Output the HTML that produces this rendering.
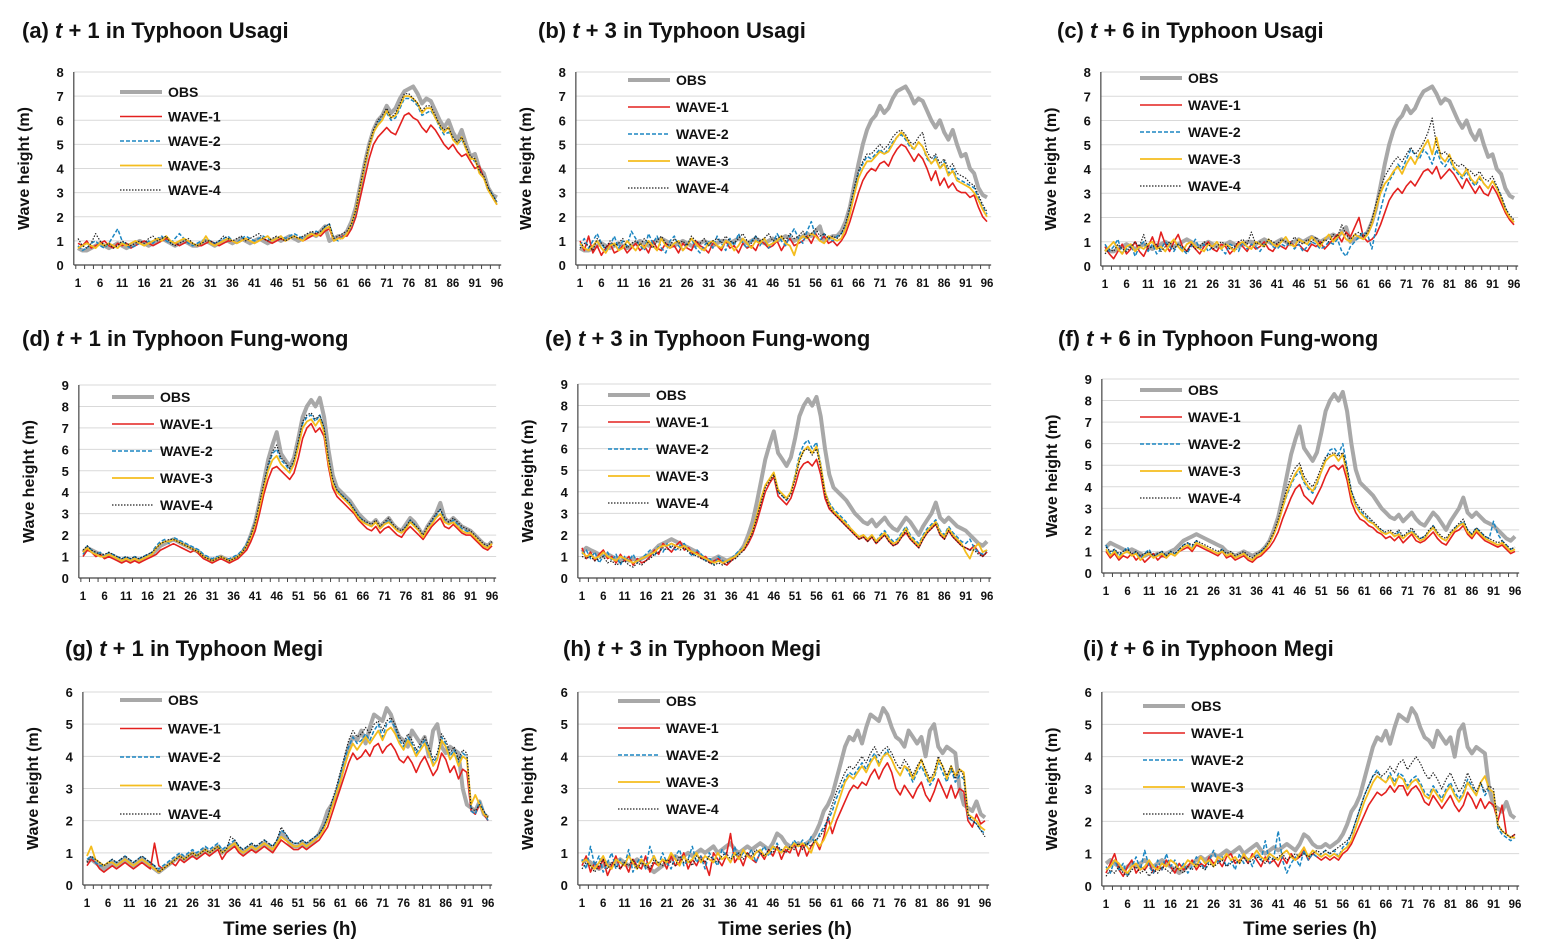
<!DOCTYPE html>
<html><head><meta charset="utf-8"><style>
html,body{margin:0;padding:0;background:#fff;}
svg{display:block;font-family:"Liberation Sans",Arial,sans-serif;}
</style></head><body>
<svg id="chart" width="1541" height="952" viewBox="0 0 1541 952" xmlns="http://www.w3.org/2000/svg"></svg>
<script>
// ---- data ----
const categories = Array.from({length:96},(_,i)=>i+1);
const xTickLabels = ["1","6","11","16","21","26","31","36","41","46","51","56","61","66","71","76","81","86","91","96"];
const seriesNames = ["OBS","WAVE-1","WAVE-2","WAVE-3","WAVE-4"];

const obsUsagi = [0.7,0.6,0.6,0.7,0.8,0.9,0.8,0.7,0.8,0.9,0.8,0.7,0.8,0.9,1.0,0.9,0.8,0.9,1.0,1.1,1.0,0.9,0.8,0.9,1.0,0.9,0.8,0.8,0.9,1.0,0.9,0.8,0.9,1.0,1.0,0.9,1.0,1.1,1.0,0.9,1.0,1.1,1.0,0.9,1.0,1.1,1.0,1.1,1.2,1.1,1.0,1.1,1.2,1.3,1.2,1.4,1.6,1.0,1.1,1.2,1.2,1.4,1.8,2.4,3.3,4.2,5.0,5.6,6.0,6.2,6.6,6.3,6.5,6.9,7.2,7.3,7.4,7.1,6.7,6.9,6.8,6.4,6.0,5.7,6.0,5.5,5.2,5.6,5.0,4.5,4.6,4.0,3.8,3.2,2.9,2.8];
const obsFung = [1.2,1.4,1.3,1.2,1.1,1.0,1.1,1.0,0.9,0.8,0.9,0.8,0.9,0.8,0.9,1.0,1.1,1.3,1.5,1.6,1.7,1.8,1.7,1.6,1.5,1.4,1.3,1.2,1.0,0.9,0.8,0.9,1.0,0.9,0.8,0.9,1.0,1.2,1.5,2.0,2.6,3.5,4.5,5.5,6.2,6.8,5.8,5.5,5.2,5.6,6.5,7.5,8.0,8.3,8.0,8.4,7.5,6.0,4.8,4.2,4.0,3.8,3.6,3.3,3.0,2.8,2.6,2.5,2.7,2.4,2.6,2.8,2.5,2.3,2.2,2.5,2.8,2.6,2.3,2.0,2.4,2.7,3.0,3.5,2.8,2.6,2.8,2.6,2.4,2.3,2.2,2.0,1.8,1.6,1.5,1.7];
const obsMegi = [0.7,0.8,0.7,0.6,0.5,0.6,0.7,0.6,0.7,0.8,0.7,0.6,0.7,0.8,0.7,0.6,0.5,0.4,0.5,0.6,0.7,0.8,0.9,0.8,0.9,1.0,0.9,1.0,1.1,1.0,1.1,1.2,1.0,1.1,1.2,1.3,1.1,1.0,1.1,1.2,1.1,1.2,1.3,1.2,1.1,1.3,1.6,1.5,1.3,1.2,1.2,1.3,1.2,1.3,1.4,1.6,1.9,2.3,2.5,2.8,3.3,3.8,4.3,4.6,4.5,4.8,4.4,4.9,5.3,5.2,5.1,5.5,5.3,4.9,4.6,4.5,4.3,4.8,4.6,4.4,4.6,4.0,4.8,5.0,4.3,4.1,4.3,4.2,4.1,3.0,2.5,2.4,2.3,2.6,2.2,2.1];

const aW1=[0.9,0.8,1.0,0.7,0.8,0.9,1.0,0.8,0.7,0.9,0.8,0.9,0.7,0.8,0.9,1.0,0.9,0.8,0.9,1.0,1.1,1.0,0.9,0.8,0.9,1.0,0.9,0.8,0.8,0.9,1.0,0.9,0.8,0.9,1.0,1.0,0.9,1.0,1.1,1.0,0.9,1.0,1.1,1.0,0.9,1.0,1.1,1.0,1.1,1.2,1.1,1.0,1.1,1.2,1.3,1.2,1.4,1.5,1.0,1.1,1.2,1.2,1.5,2.0,2.8,3.6,4.4,5.0,5.3,5.5,5.7,5.5,5.4,5.8,6.2,6.3,6.1,6.0,5.7,5.5,5.8,5.6,5.3,5.0,4.8,5.0,4.7,4.5,4.6,4.3,4.0,4.1,3.6,3.2,2.8,2.5];
const aW2=[0.8,0.6,0.7,0.9,1.0,0.8,0.7,0.9,1.2,1.5,1.0,0.8,0.7,0.8,0.9,0.8,1.0,0.9,1.1,1.2,1.0,0.9,1.1,1.3,1.1,0.9,0.8,0.9,1.0,1.1,1.0,0.9,1.0,1.1,1.2,1.0,0.9,1.1,1.2,1.1,1.0,1.1,1.2,1.1,1.0,1.1,1.2,1.1,1.2,1.3,1.2,1.1,1.2,1.3,1.4,1.3,1.6,1.7,1.1,1.0,1.2,1.3,1.6,2.2,3.1,4.0,4.9,5.5,5.9,6.1,6.3,6.0,6.1,6.5,6.9,6.9,6.8,6.6,6.2,6.3,6.4,6.1,5.7,5.4,5.5,5.3,5.0,5.2,4.8,4.4,4.3,3.9,3.6,3.2,2.9,2.6];
const aW3=[0.7,0.8,0.9,0.8,0.7,0.9,0.8,0.9,0.8,0.7,0.9,0.8,0.9,1.0,0.9,0.8,0.9,1.0,1.1,1.0,1.2,1.0,0.9,1.0,1.1,1.0,0.9,0.8,0.9,1.2,0.9,0.8,0.9,1.0,1.1,1.0,0.9,1.0,1.1,1.0,0.9,1.0,1.1,1.2,1.0,1.1,1.2,1.0,1.1,1.2,1.1,1.0,1.2,1.3,1.2,1.3,1.5,1.6,1.0,1.1,1.1,1.3,1.7,2.3,3.2,4.1,4.9,5.5,5.8,6.0,6.4,6.1,6.2,6.6,7.0,7.0,6.9,6.7,6.3,6.5,6.5,6.1,5.8,5.5,5.7,5.2,5.0,5.3,4.8,4.4,4.4,3.8,3.6,3.1,2.8,2.5];
const aW4=[1.1,0.8,0.7,0.9,1.3,1.0,0.8,0.9,0.7,0.8,1.0,0.9,0.8,0.9,1.0,0.9,1.1,1.2,1.0,1.1,1.2,0.9,0.8,0.9,1.0,1.1,0.9,0.8,0.9,1.0,1.0,0.9,1.0,1.2,1.1,1.0,1.1,1.2,1.0,1.1,1.2,1.3,1.1,1.0,1.1,1.2,1.1,1.0,1.1,1.2,1.1,1.2,1.3,1.4,1.3,1.4,1.6,1.7,1.1,1.2,1.3,1.4,1.7,2.3,3.3,4.2,5.0,5.6,6.0,6.2,6.5,6.1,6.3,6.7,7.1,7.1,6.9,6.7,6.4,6.6,6.6,6.2,5.8,5.6,5.7,5.3,5.1,5.3,4.9,4.5,4.4,3.9,3.7,3.2,2.9,2.6];

const bW1=[1.0,0.6,1.2,0.5,0.8,0.4,0.7,0.9,0.5,0.6,0.8,0.5,0.7,0.9,0.6,0.8,0.5,1.0,0.7,0.6,0.9,0.7,0.8,0.5,0.9,0.7,0.6,1.0,0.8,0.7,0.5,0.9,0.8,0.6,1.0,0.7,0.8,0.5,0.9,0.7,0.8,0.6,1.0,0.9,0.7,0.8,1.0,0.6,0.9,1.1,0.8,0.9,1.0,1.2,0.9,1.3,1.0,1.2,0.9,1.0,0.8,1.0,1.3,1.8,2.4,3.0,3.5,3.8,4.0,3.9,4.2,4.3,4.1,4.5,4.8,5.0,4.9,4.6,4.3,4.6,4.4,4.0,3.5,3.9,3.3,3.6,3.2,3.4,3.1,3.0,3.0,2.8,2.9,2.4,2.0,1.8];
const bW2=[0.8,1.1,0.7,1.0,1.3,0.9,0.6,0.8,1.2,0.7,1.0,0.8,1.4,1.1,0.8,0.6,1.3,0.9,1.2,0.7,0.5,1.0,1.2,0.8,0.6,0.9,1.1,0.7,0.5,0.8,1.0,0.7,1.2,0.9,0.6,1.1,0.8,1.3,0.9,0.7,1.0,1.2,0.8,1.1,0.7,0.9,1.3,1.0,0.8,1.2,1.5,1.1,0.9,1.4,1.8,1.2,1.0,1.3,1.1,1.0,1.2,1.3,1.6,2.3,3.1,3.8,4.2,4.5,4.4,4.6,4.8,4.6,4.8,5.1,5.3,5.4,5.2,4.9,4.8,5.1,4.9,4.4,4.2,4.5,4.0,4.3,3.8,4.0,3.6,3.5,3.4,3.3,3.2,2.8,2.4,2.1];
const bW3=[0.9,0.7,0.6,0.8,1.0,0.7,0.5,0.8,0.9,0.6,0.7,1.0,0.8,0.6,0.9,0.7,1.0,0.8,0.6,1.1,0.8,0.7,0.9,1.0,0.6,0.8,1.1,0.9,0.7,0.6,0.9,1.0,0.8,0.7,1.0,0.9,0.6,0.8,1.1,0.9,0.7,1.0,0.9,1.1,0.8,0.9,1.0,1.2,0.9,0.8,0.4,1.0,1.2,1.1,1.3,1.2,1.0,0.9,1.2,1.1,1.0,1.1,1.5,2.1,2.9,3.6,4.0,4.3,4.3,4.5,4.7,4.6,4.7,5.0,5.3,5.5,5.3,5.0,4.8,5.1,4.9,4.5,4.2,4.4,4.0,4.2,3.7,3.9,3.5,3.4,3.3,3.2,3.0,2.7,2.3,2.0];
const bW4=[0.7,0.9,0.8,0.6,1.1,0.9,0.7,1.0,0.8,0.9,1.1,0.7,0.9,1.0,0.8,1.1,0.9,0.7,1.0,1.2,0.9,0.8,1.1,0.9,1.0,0.8,1.2,1.0,0.9,1.1,0.8,1.0,1.1,0.9,1.2,1.0,0.9,1.1,1.3,1.0,0.9,1.2,1.0,1.1,1.3,1.0,1.1,1.2,1.0,1.3,1.1,1.2,1.4,1.1,1.3,1.5,1.2,1.3,1.1,1.2,1.1,1.3,1.7,2.4,3.2,3.9,4.3,4.6,4.6,4.8,5.0,4.8,5.0,5.3,5.5,5.6,5.4,5.1,5.0,5.3,5.5,4.7,4.4,4.6,4.2,4.4,4.0,4.2,3.8,3.7,3.6,3.4,3.3,2.9,2.5,2.2];

const cW1=[0.8,0.5,0.3,0.6,0.9,0.5,0.7,1.0,0.6,0.4,0.8,1.2,0.7,1.4,0.9,0.6,1.0,1.3,0.8,0.6,0.9,0.7,0.5,0.8,1.0,0.7,0.6,0.9,0.8,0.5,0.7,1.0,0.8,0.6,0.9,0.7,0.8,1.0,0.7,0.6,0.9,0.8,0.7,1.0,0.8,0.9,0.7,0.6,0.9,0.8,1.0,0.7,0.9,1.1,1.3,1.0,1.4,1.2,1.6,2.0,1.2,1.0,1.1,1.3,1.7,2.2,2.7,3.0,3.2,3.0,3.3,3.5,3.3,3.6,3.9,4.0,3.8,4.1,3.6,3.8,4.0,3.8,3.5,3.2,3.6,3.3,3.0,3.3,3.0,2.9,3.3,3.0,2.6,2.2,1.9,1.7];
const cW2=[0.9,0.6,0.8,1.1,0.5,0.7,0.9,0.4,0.8,1.0,0.6,0.9,0.5,0.7,1.0,0.8,0.6,0.9,0.7,0.5,0.8,1.1,0.7,0.9,0.6,0.8,1.0,0.7,0.5,0.9,0.8,0.6,1.0,0.7,0.9,0.8,0.6,0.9,1.1,0.8,0.7,0.9,0.8,1.0,0.7,0.9,0.6,0.8,1.0,0.9,0.7,0.8,1.0,0.9,1.1,0.6,0.4,0.8,1.0,1.2,1.4,1.3,0.7,1.6,2.3,3.0,3.5,3.8,4.2,4.0,4.4,4.8,4.6,4.4,4.8,4.6,4.2,4.8,4.3,4.1,4.4,4.0,3.8,3.6,3.9,3.5,3.3,3.6,3.4,3.2,3.5,3.3,2.9,2.4,2.0,1.8];
const cW3=[0.6,0.8,1.0,0.7,0.5,0.8,0.9,0.6,0.8,0.7,0.9,1.0,0.7,0.8,0.6,0.9,1.1,0.8,0.6,0.9,1.0,0.8,0.7,0.6,0.9,0.8,1.0,0.7,0.9,0.8,0.6,0.9,1.0,0.8,0.7,1.0,0.9,0.8,1.1,0.9,0.8,1.0,1.2,0.9,0.8,1.1,1.0,0.9,1.2,1.0,0.8,1.1,1.3,1.0,1.2,1.4,1.1,1.0,1.3,1.2,1.1,1.3,1.7,2.4,3.0,3.4,3.6,3.9,4.1,3.8,4.2,4.5,4.2,4.6,4.9,5.2,4.6,5.3,4.5,4.3,4.6,4.1,3.9,3.7,4.0,3.6,3.4,3.7,3.4,3.2,3.5,3.2,2.8,2.3,2.0,1.8];
const cW4=[0.5,0.7,0.6,0.9,0.7,0.6,0.8,1.0,0.8,1.3,0.7,0.8,0.9,0.6,0.8,1.0,0.7,0.9,0.8,0.6,0.9,0.7,0.8,1.0,0.9,0.7,0.8,1.0,0.9,0.7,0.8,1.0,1.1,0.9,1.4,0.9,1.0,0.8,1.1,1.0,0.9,1.1,1.0,0.9,1.2,1.0,0.9,1.1,1.0,1.2,0.9,1.1,1.0,1.3,1.2,1.7,1.3,1.1,1.3,1.4,1.2,1.4,1.9,2.6,3.2,3.7,4.0,4.3,4.5,4.3,4.6,4.9,4.6,4.8,5.1,5.5,6.1,5.0,4.6,4.7,4.5,4.3,4.1,4.2,4.0,3.9,3.7,3.9,3.6,3.5,3.7,3.3,2.9,2.4,2.1,1.9];

const dW1=[1.0,1.3,1.2,1.0,1.1,0.9,1.0,0.9,0.8,0.7,0.8,0.7,0.8,0.7,0.8,0.9,1.0,1.1,1.3,1.4,1.5,1.6,1.5,1.4,1.3,1.2,1.3,1.1,0.9,0.8,0.7,0.8,0.9,0.8,0.7,0.8,0.9,1.1,1.3,1.7,2.2,3.0,3.9,4.6,5.1,5.2,5.0,4.8,4.6,4.9,5.6,6.5,7.0,7.2,6.8,7.0,6.6,5.2,4.2,3.8,3.6,3.4,3.2,3.0,2.7,2.5,2.3,2.2,2.4,2.1,2.3,2.4,2.2,2.0,1.9,2.2,2.4,2.2,2.0,1.8,2.1,2.4,2.6,2.8,2.4,2.3,2.5,2.3,2.1,2.0,2.0,1.8,1.6,1.4,1.3,1.5];
const dW2=[1.1,1.5,1.3,1.1,1.2,1.0,1.2,1.1,1.0,0.9,1.0,0.9,1.0,0.9,1.0,1.1,1.2,1.5,1.7,1.8,1.6,1.9,1.8,1.7,1.6,1.5,1.4,1.3,1.1,1.0,0.9,1.0,1.0,0.9,0.9,1.0,1.1,1.3,1.6,2.0,2.6,3.4,4.3,5.2,5.8,6.0,5.5,5.3,5.0,5.4,6.3,7.2,7.5,7.6,7.3,7.6,7.0,5.6,4.5,4.1,3.9,3.7,3.5,3.2,2.9,2.7,2.5,2.4,2.6,2.3,2.5,2.7,2.4,2.2,2.1,2.4,2.7,2.5,2.2,1.9,2.3,2.6,2.9,3.2,2.7,2.5,2.7,2.5,2.3,2.2,2.1,1.9,1.7,1.5,1.4,1.6];
const dW3=[1.2,1.4,1.2,1.1,1.0,1.0,1.1,1.0,0.9,0.8,0.9,0.8,0.9,0.8,0.9,1.0,1.1,1.4,1.6,1.7,1.7,1.8,1.7,1.6,1.5,1.4,1.3,1.2,1.0,0.9,0.8,0.9,1.0,0.9,0.8,0.9,1.0,1.2,1.5,1.9,2.5,3.3,4.2,5.0,5.5,5.7,5.3,5.1,4.9,5.3,6.1,7.0,7.3,7.4,7.1,7.4,6.8,5.4,4.4,4.0,3.8,3.6,3.4,3.1,2.8,2.6,2.5,2.4,2.6,2.3,2.5,2.6,2.4,2.2,2.1,2.3,2.6,2.4,2.2,1.9,2.3,2.5,2.8,3.0,2.6,2.5,2.6,2.4,2.2,2.1,2.1,1.9,1.7,1.5,1.4,1.6];
const dW4=[1.3,1.5,1.3,1.2,1.1,1.1,1.2,1.1,1.0,0.9,1.0,0.9,1.0,0.9,1.0,1.1,1.2,1.4,1.6,1.7,1.8,1.8,1.7,1.6,1.5,1.4,1.3,1.2,1.0,0.9,0.8,0.9,1.0,0.9,0.8,0.9,1.0,1.2,1.5,2.0,2.6,3.5,4.4,5.3,5.9,6.2,5.6,5.4,5.1,5.5,6.4,7.3,7.6,7.7,7.4,7.6,7.0,5.6,4.6,4.1,3.9,3.7,3.5,3.2,2.9,2.7,2.6,2.5,2.7,2.4,2.6,2.8,2.5,2.3,2.2,2.4,2.7,2.5,2.3,2.0,2.4,2.7,3.0,3.2,2.8,2.6,2.8,2.6,2.4,2.3,2.2,2.0,1.8,1.6,1.5,1.7];

const eW1=[1.4,0.9,1.2,0.8,1.1,1.3,0.9,1.0,0.7,1.1,0.8,1.0,0.6,0.9,0.7,0.8,1.0,1.3,1.1,1.6,1.4,1.2,1.5,1.7,1.3,1.4,1.1,1.2,0.9,1.0,0.7,0.8,0.9,0.7,0.6,0.8,1.0,1.2,1.3,1.6,2.0,2.6,3.3,4.0,4.4,4.7,3.8,3.6,3.4,3.7,4.3,5.0,5.3,5.4,5.2,5.5,4.8,3.7,3.2,3.0,2.8,2.6,2.4,2.2,2.0,1.8,1.9,1.7,1.9,1.6,1.8,2.0,1.7,1.5,1.6,1.9,2.1,1.8,1.6,1.4,1.8,2.1,2.3,2.5,2.0,1.8,2.2,1.9,1.7,1.5,1.4,1.3,1.5,1.2,1.0,1.2];
const eW2=[1.1,1.3,0.9,1.2,0.7,1.0,1.2,0.8,1.1,0.6,1.0,0.8,1.1,0.7,0.9,1.1,1.3,1.0,1.5,1.2,1.6,1.4,1.3,1.5,1.6,1.2,1.0,1.3,1.1,0.8,0.9,0.6,1.0,0.8,0.7,0.9,1.1,1.3,1.4,1.7,2.2,2.9,3.6,4.3,4.6,4.8,4.0,3.8,3.6,4.0,4.8,5.7,6.2,6.4,6.0,6.3,5.3,4.0,3.5,3.2,3.0,2.8,2.6,2.3,2.1,1.9,2.0,1.8,2.0,1.7,2.0,2.2,1.9,1.7,1.8,2.1,2.4,2.0,1.8,1.6,2.0,2.3,2.5,2.7,2.2,2.0,2.4,2.1,1.9,1.7,1.6,1.8,1.4,1.2,1.1,1.3];
const eW3=[1.2,1.0,1.1,0.9,1.0,1.2,1.0,0.9,0.8,1.0,0.9,0.8,0.7,0.8,0.9,1.0,1.1,1.2,1.4,1.5,1.5,1.6,1.5,1.4,1.5,1.3,1.2,1.1,1.0,0.9,0.8,0.7,0.8,0.7,0.8,0.9,1.0,1.2,1.4,1.8,2.2,2.9,3.7,4.3,4.6,4.9,4.1,3.9,3.7,4.0,4.7,5.5,5.9,6.1,5.8,6.1,5.2,4.0,3.4,3.1,2.9,2.7,2.5,2.3,2.1,1.9,2.0,1.8,2.0,1.7,1.9,2.1,1.8,1.6,1.7,2.0,2.3,1.9,1.7,1.5,1.9,2.2,2.4,2.6,2.1,1.9,2.3,2.0,1.8,1.6,1.2,0.9,1.4,1.6,1.2,1.3];
const eW4=[1.0,0.9,1.0,0.8,0.9,1.0,0.7,0.8,0.6,0.7,0.8,0.6,0.5,0.7,0.6,0.8,0.9,1.1,1.2,1.4,1.3,1.5,1.4,1.3,1.4,1.2,1.1,1.0,0.9,0.8,0.7,0.6,0.7,0.6,0.7,0.8,0.9,1.1,1.3,1.7,2.1,2.8,3.5,4.2,4.5,4.8,4.0,3.8,3.6,3.9,4.6,5.4,5.9,6.0,5.7,6.0,5.1,3.9,3.3,3.0,2.8,2.6,2.4,2.2,2.0,1.8,1.9,1.7,1.9,1.6,1.8,2.0,1.7,1.5,1.6,1.9,2.2,1.8,1.6,1.4,1.8,2.1,2.3,2.5,2.0,1.8,2.2,1.9,1.7,1.5,1.4,1.3,1.3,1.1,1.0,1.2];

const fW1=[1.0,0.7,0.9,0.6,0.8,0.7,0.9,0.6,0.8,0.5,0.7,0.9,0.6,0.8,0.7,0.9,0.8,1.0,1.1,1.2,1.0,1.3,1.2,1.1,1.0,0.9,0.8,1.0,0.7,0.8,0.6,0.7,0.8,0.6,0.5,0.7,0.8,1.0,1.2,1.5,1.9,2.5,3.0,3.5,3.9,4.1,3.6,3.4,3.2,3.6,4.0,4.5,4.9,5.0,4.8,5.0,4.3,3.3,2.8,2.5,2.4,2.2,2.1,1.9,1.8,1.6,1.7,1.5,1.7,1.4,1.6,1.8,1.5,1.4,1.5,1.7,1.9,1.6,1.4,1.3,1.6,1.9,2.0,2.2,1.8,1.6,1.9,1.7,1.5,1.4,1.3,1.2,1.3,1.1,0.9,1.0];
const fW2=[1.3,0.9,1.1,0.8,1.0,1.2,0.8,1.0,0.7,0.9,1.1,0.7,0.9,1.0,0.8,1.0,0.9,1.1,1.3,1.4,1.2,1.5,1.3,1.2,1.1,1.0,0.9,1.1,0.8,0.9,0.7,0.8,0.9,0.7,0.6,0.8,1.0,1.2,1.4,1.8,2.3,3.0,3.6,4.1,4.5,4.7,4.2,3.9,3.7,4.1,4.7,5.3,5.7,5.8,5.5,6.0,4.9,3.8,3.2,2.9,2.7,2.5,2.3,2.1,2.0,1.8,1.9,1.7,1.9,1.6,1.8,2.0,1.7,1.6,1.7,1.9,2.2,1.8,1.6,1.5,1.8,2.1,2.2,2.4,2.0,1.8,2.1,1.9,1.7,1.6,2.4,1.8,1.5,1.3,1.1,1.2];
const fW3=[1.1,0.8,1.0,0.7,0.9,1.0,0.8,0.9,0.6,0.8,0.9,0.7,0.8,0.9,0.7,0.9,0.8,1.0,1.2,1.3,1.1,1.4,1.3,1.2,1.1,1.0,0.9,1.0,0.8,0.9,0.7,0.8,0.9,0.7,0.6,0.8,0.9,1.1,1.4,1.8,2.3,3.0,3.7,4.2,4.6,4.9,4.3,4.0,3.8,4.2,4.7,5.2,5.4,5.5,5.2,5.5,4.6,3.6,3.1,2.8,2.6,2.4,2.3,2.1,1.9,1.8,1.9,1.7,1.8,1.6,1.8,1.9,1.7,1.5,1.6,1.9,2.1,1.8,1.6,1.5,1.8,2.0,2.2,2.3,1.9,1.7,2.0,1.8,1.6,1.5,1.4,1.3,1.4,1.2,1.0,1.1];
const fW4=[1.2,1.0,1.1,0.9,1.0,1.1,0.9,1.0,0.8,0.9,1.0,0.8,0.9,1.0,0.8,1.0,0.9,1.1,1.3,1.4,1.3,1.5,1.4,1.3,1.2,1.1,1.0,1.1,0.9,1.0,0.8,0.9,1.0,0.8,0.7,0.9,1.0,1.2,1.5,1.9,2.5,3.2,3.9,4.5,4.9,5.1,4.5,4.2,4.0,4.4,4.9,5.4,5.5,5.6,5.4,5.6,4.8,3.8,3.3,3.0,2.8,2.6,2.4,2.2,2.0,1.9,2.0,1.8,2.0,1.7,1.9,2.1,1.8,1.6,1.7,2.0,2.2,1.9,1.7,1.6,1.9,2.1,2.3,2.5,2.0,1.8,2.1,1.9,1.7,1.6,1.5,1.4,1.5,1.3,1.1,1.2];

const gW1=[0.6,0.8,0.7,0.5,0.4,0.5,0.6,0.5,0.6,0.7,0.6,0.5,0.6,0.7,0.6,0.5,1.3,0.6,0.5,0.6,0.7,0.6,0.8,0.7,0.8,0.9,0.8,0.9,1.0,0.9,1.0,1.1,0.8,1.0,1.1,1.2,1.0,0.9,1.0,1.1,1.0,1.1,1.2,1.1,1.0,1.2,1.4,1.3,1.2,1.1,1.1,1.2,1.1,1.2,1.3,1.4,1.6,1.8,2.2,2.6,3.0,3.4,3.8,4.1,3.9,4.0,4.2,4.0,4.3,4.4,4.1,4.3,4.4,4.2,3.9,3.8,4.0,3.8,3.5,3.8,4.0,3.7,3.4,3.6,4.1,3.9,3.5,3.7,3.3,3.6,3.5,2.3,2.2,2.5,2.2,2.0];
const gW2=[0.8,0.9,0.7,0.6,0.6,0.7,0.8,0.7,0.8,0.9,0.8,0.7,0.8,0.9,0.8,0.7,0.6,0.5,0.6,0.7,0.8,0.9,1.0,0.9,1.0,1.1,1.0,1.1,1.2,1.1,1.2,1.3,1.1,1.2,1.3,1.4,1.2,1.1,1.2,1.3,1.2,1.3,1.4,1.3,1.2,1.4,1.7,1.6,1.4,1.3,1.3,1.4,1.3,1.4,1.5,1.6,1.8,2.1,2.5,2.9,3.4,3.9,4.3,4.6,4.4,4.5,4.7,4.5,4.8,5.0,4.6,5.0,5.1,4.9,4.5,4.3,4.6,4.4,4.1,4.3,4.5,4.2,3.8,4.0,4.6,4.4,4.0,4.2,3.8,4.1,4.0,2.3,2.2,2.6,2.3,2.0];
const gW3=[0.9,1.2,0.8,0.7,0.6,0.7,0.7,0.6,0.7,0.8,0.7,0.6,0.7,0.8,0.7,0.6,0.5,0.4,0.5,0.6,0.7,0.8,0.9,0.8,0.9,1.0,0.9,1.0,1.1,1.0,1.1,1.2,1.0,1.1,1.2,1.3,1.1,1.0,1.1,1.2,1.1,1.2,1.3,1.2,1.1,1.3,1.5,1.4,1.3,1.2,1.2,1.3,1.2,1.3,1.4,1.5,1.7,2.0,2.4,2.8,3.2,3.7,4.1,4.4,4.2,4.4,4.6,4.4,4.6,4.8,4.5,4.8,4.9,4.7,4.4,4.2,4.5,4.3,4.0,4.2,4.4,4.1,3.7,3.9,4.5,4.3,3.9,4.1,3.7,4.0,3.9,2.5,2.8,2.5,2.2,2.1];
const gW4=[0.7,0.9,0.8,0.7,0.6,0.7,0.8,0.7,0.8,0.9,0.8,0.7,0.8,0.9,0.8,0.7,0.6,0.4,0.5,0.6,0.7,0.8,0.9,0.8,0.9,1.0,0.9,1.0,1.1,1.0,1.1,1.2,1.0,1.1,1.5,1.4,1.2,1.1,1.2,1.3,1.2,1.3,1.4,1.3,1.2,1.4,1.8,1.6,1.4,1.3,1.3,1.4,1.3,1.4,1.5,1.6,1.8,2.1,2.6,3.0,3.5,4.0,4.5,4.8,4.6,4.7,4.9,4.7,5.0,5.1,4.8,5.1,5.2,5.0,4.6,4.4,4.7,4.5,4.2,4.4,4.6,4.3,3.9,4.1,4.7,4.5,4.1,4.3,3.9,4.2,4.1,2.4,2.3,2.5,2.3,2.1];

const hW1=[0.6,0.9,0.4,0.7,0.5,0.8,0.3,0.6,0.9,0.5,0.7,0.4,0.8,0.6,0.5,0.9,0.4,0.7,0.6,0.8,0.5,0.9,0.6,0.7,1.0,0.5,0.8,0.6,0.9,0.7,0.3,1.0,0.8,0.6,0.9,1.6,0.7,0.9,0.6,1.0,0.8,0.7,1.0,0.8,1.1,0.9,1.2,0.8,1.1,1.0,1.3,0.9,1.3,0.9,1.2,1.4,1.1,1.5,2.1,1.6,2.0,2.3,2.6,2.9,3.1,3.0,3.2,3.1,3.4,3.6,3.3,3.6,3.8,3.5,3.0,2.8,3.1,2.9,2.7,3.0,3.2,2.8,2.6,2.9,3.3,3.0,2.7,3.1,2.7,3.0,2.9,2.0,1.8,2.2,1.9,2.0];
const hW2=[0.8,0.5,1.2,0.6,0.9,0.4,0.7,1.0,0.5,0.8,0.6,1.1,0.4,0.7,0.9,0.5,1.2,0.8,0.6,1.0,0.7,0.5,0.9,1.1,0.6,0.8,1.2,0.7,0.9,0.5,1.0,0.8,0.6,1.1,0.9,0.7,1.2,0.8,1.0,0.9,1.1,0.7,1.0,1.2,0.9,1.1,1.3,1.0,1.2,1.1,1.4,1.2,1.4,1.2,1.5,1.3,1.6,1.8,2.0,2.3,2.7,3.0,3.3,3.5,3.4,3.6,3.8,3.6,3.9,4.1,3.8,4.0,4.2,3.9,3.6,3.4,3.7,3.5,3.2,3.5,3.7,3.4,3.1,3.3,3.8,3.5,3.2,3.6,3.2,3.4,3.3,2.1,2.0,1.9,1.7,1.6];
const hW3=[0.7,0.8,0.6,0.5,0.7,0.9,0.6,0.5,0.8,0.7,0.6,0.9,0.7,0.5,0.8,0.6,0.7,0.9,0.6,0.8,0.7,1.0,0.8,0.6,0.9,0.7,0.8,1.0,0.7,0.9,0.8,0.7,1.0,0.8,0.9,0.7,1.0,0.8,1.1,0.9,0.8,1.0,1.1,0.9,1.0,1.2,1.1,1.0,1.2,1.1,1.3,1.2,1.3,1.2,1.0,1.4,1.2,1.4,1.7,2.0,2.4,2.8,3.2,3.4,3.3,3.5,3.7,3.5,3.8,4.0,3.7,4.0,4.1,3.9,3.6,3.4,3.7,3.6,3.3,3.6,3.9,3.5,3.2,3.4,3.9,3.7,3.3,3.7,3.4,3.6,3.5,2.2,2.1,2.0,1.8,1.7];
const hW4=[0.5,0.7,0.6,0.4,0.6,0.8,0.5,0.7,0.6,0.5,0.7,0.6,0.8,0.5,0.7,0.6,0.5,0.8,0.7,0.6,0.8,0.7,0.6,0.9,0.7,0.8,0.6,0.9,0.8,0.7,0.9,0.8,0.7,0.9,1.0,0.8,0.9,1.0,0.8,1.0,0.9,1.1,1.0,0.9,1.1,1.0,1.2,1.1,1.0,1.2,1.1,1.3,1.1,1.3,1.2,1.4,1.5,1.7,2.1,2.5,2.9,3.2,3.5,3.7,3.6,3.8,4.0,3.8,4.1,4.3,4.0,4.2,4.3,4.1,3.8,3.6,3.9,3.7,3.4,3.7,3.9,3.6,3.3,3.5,4.0,3.7,3.4,3.7,3.3,3.6,3.4,2.2,2.0,1.9,1.7,1.5];

const iW1=[0.4,0.7,1.0,0.5,0.3,0.6,0.8,0.4,0.6,0.5,0.7,0.4,0.6,0.5,0.8,0.6,0.4,0.7,0.5,0.6,0.8,0.5,0.7,0.6,0.9,0.7,0.8,0.6,0.9,1.0,0.7,0.8,0.9,0.7,1.0,0.8,0.6,0.9,0.7,0.8,0.6,0.9,0.7,1.0,0.8,0.9,1.1,0.8,1.0,0.9,0.8,0.9,0.8,0.9,0.8,1.0,1.1,1.3,1.6,1.9,2.2,2.5,2.7,2.9,2.8,2.9,3.1,2.9,3.1,3.1,2.8,3.0,3.1,2.9,2.6,2.5,2.8,2.6,2.4,2.6,2.8,2.5,2.3,2.5,2.9,2.7,2.4,2.7,2.4,2.6,2.5,2.0,2.5,1.6,1.5,1.6];
const iW2=[0.6,0.4,0.8,0.5,0.7,0.3,0.6,0.9,0.5,1.1,0.6,0.4,0.8,0.5,1.0,0.6,0.8,0.5,0.7,0.4,0.6,0.9,0.7,0.5,0.8,1.1,0.7,0.9,0.6,0.8,0.5,1.0,0.7,0.9,0.6,1.0,0.8,1.4,0.7,0.9,1.7,0.8,0.4,0.7,0.9,0.6,1.1,0.8,1.0,0.9,1.0,1.1,1.0,1.1,0.9,1.2,1.3,1.6,2.0,2.4,2.8,3.1,3.4,3.6,3.3,3.2,3.5,3.2,3.5,3.4,3.1,3.3,3.4,3.2,2.9,2.8,3.1,2.9,2.7,3.0,3.2,2.9,2.7,2.9,3.3,3.1,2.8,3.2,2.8,3.0,2.9,1.8,1.6,1.5,1.4,1.5];
const iW3=[0.5,0.6,0.8,0.7,0.5,0.4,0.6,0.7,0.5,0.6,0.8,0.6,0.5,0.7,0.6,0.8,0.7,0.5,0.6,0.8,0.7,0.6,0.9,0.7,0.8,0.6,0.9,0.8,1.0,0.8,0.9,0.7,1.0,0.8,0.9,1.1,0.9,0.8,1.0,0.9,0.8,1.0,1.1,0.9,0.8,1.0,1.2,0.9,1.1,1.0,0.9,1.0,0.9,1.0,0.9,1.1,1.2,1.4,1.8,2.2,2.6,2.9,3.2,3.4,3.3,3.2,3.4,3.1,3.4,3.3,3.0,3.2,3.3,3.1,2.8,2.7,3.0,2.8,2.6,2.9,3.1,2.8,2.6,2.8,3.2,3.0,2.8,3.2,3.4,3.0,2.9,1.9,1.7,1.6,1.5,1.5];
const iW4=[0.3,0.5,0.4,0.6,0.4,0.3,0.5,0.6,0.4,0.5,0.3,0.5,0.4,0.6,0.5,0.4,0.6,0.5,0.4,0.6,0.5,0.7,0.6,0.5,0.7,0.6,0.7,0.8,0.6,0.7,0.8,0.7,0.9,0.7,0.8,0.9,0.8,0.7,0.9,0.8,0.9,1.0,0.8,0.9,1.0,0.9,1.0,0.9,1.0,1.1,1.0,1.1,1.0,1.1,1.2,1.3,1.4,1.6,2.0,2.4,2.8,3.1,3.4,3.5,3.4,3.5,3.7,3.5,3.8,3.9,3.6,3.8,4.0,3.8,3.5,3.3,3.5,3.3,3.0,3.3,3.5,3.2,2.9,3.1,3.5,3.2,2.9,3.2,2.9,3.1,3.0,1.9,1.7,1.6,1.5,1.6];

// ---- layout ----
const panels = [
 {id:"a",title:"(a) ",tail:" + 1 in Typhoon Usagi",tx:22,ty:38,x0:78,x1:497,yTop:72,yBot:265,ymax:8,lx:120,ly:92,ls:24.5,obs:obsUsagi,m:[aW1,aW2,aW3,aW4]},
 {id:"b",title:"(b) ",tail:" + 3 in Typhoon Usagi",tx:538,ty:38,x0:580,x1:987,yTop:72,yBot:265,ymax:8,lx:628,ly:80,ls:27,obs:obsUsagi,m:[bW1,bW2,bW3,bW4]},
 {id:"c",title:"(c) ",tail:" + 6 in Typhoon Usagi",tx:1057,ty:38,x0:1105,x1:1514,yTop:72,yBot:266,ymax:8,lx:1140,ly:78,ls:27,obs:obsUsagi,m:[cW1,cW2,cW3,cW4]},
 {id:"d",title:"(d) ",tail:" + 1 in Typhoon Fung-wong",tx:22,ty:346,x0:83,x1:492,yTop:385,yBot:578,ymax:9,lx:112,ly:397,ls:27,obs:obsFung,m:[dW1,dW2,dW3,dW4]},
 {id:"e",title:"(e) ",tail:" + 3 in Typhoon Fung-wong",tx:545,ty:346,x0:582,x1:987,yTop:384,yBot:578,ymax:9,lx:608,ly:395,ls:27,obs:obsFung,m:[eW1,eW2,eW3,eW4]},
 {id:"f",title:"(f) ",tail:" + 6 in Typhoon Fung-wong",tx:1058,ty:346,x0:1106,x1:1515,yTop:379,yBot:573,ymax:9,lx:1140,ly:390,ls:27,obs:obsFung,m:[fW1,fW2,fW3,fW4]},
 {id:"g",title:"(g) ",tail:" + 1 in Typhoon Megi",tx:65,ty:656,x0:87,x1:488,yTop:692,yBot:885,ymax:6,lx:120,ly:700,ls:28.5,obs:obsMegi,m:[gW1,gW2,gW3,gW4]},
 {id:"h",title:"(h) ",tail:" + 3 in Typhoon Megi",tx:563,ty:656,x0:582,x1:985,yTop:692,yBot:885,ymax:6,lx:618,ly:701,ls:27,obs:obsMegi,m:[hW1,hW2,hW3,hW4]},
 {id:"i",title:"(i) ",tail:" + 6 in Typhoon Megi",tx:1083,ty:656,x0:1106,x1:1515,yTop:692,yBot:886,ymax:6,lx:1143,ly:706,ls:27,obs:obsMegi,m:[iW1,iW2,iW3,iW4]}
];
const styles = [
 {c:"#a8a8a8",w:4,d:""},
 {c:"#e3201e",w:1.6,d:""},
 {c:"#1b86c2",w:1.5,d:"4,2"},
 {c:"#f4bd1e",w:1.8,d:""},
 {c:"#222",w:1.2,d:"1.5,1.5"}
];
const NS="http://www.w3.org/2000/svg";
const svg=document.getElementById("chart");
function mk(tag,attrs,parent){const e=document.createElementNS(NS,tag);for(const k in attrs)e.setAttribute(k,attrs[k]);(parent||svg).appendChild(e);return e;}

panels.forEach(p=>{
  const g=mk("g",{});
  
  
  const step=(p.x1-p.x0)/95;
  const xS=i=>p.x0+(i-1)*step;
  const yS=v=>p.yBot-(v/p.ymax)*(p.yBot-p.yTop);
  const left=p.x0-step/2-2, right=p.x1+step/2+2;
  const t=mk("text",{x:p.tx,y:p.ty,"font-size":22,"font-weight":"bold",fill:"#111"},g);
  
  
  t.innerHTML=p.title+'<tspan font-style="italic">t</tspan>'+p.tail;
  for(let v=0;v<=p.ymax;v++){
    const y=yS(v);
    if(v>0){const gl=mk("line",{x1:left,x2:right,y1:y,y2:y,stroke:"#d9d9d9","stroke-width":1},g);
      
      }
    const tl=mk("text",{x:left-10,y:y+5,"font-size":13,"font-weight":"bold","text-anchor":"end",fill:"#111"},g);
    
    
    tl.textContent=v;
  }
  const ya=mk("line",{x1:left,x2:left,y1:p.yTop,y2:p.yBot,stroke:"#444","stroke-width":1.2},g);
  
  
  const xa=mk("line",{x1:left,x2:right,y1:p.yBot,y2:p.yBot,stroke:"#444","stroke-width":1.2},g);
  
  
  for(let i=0;i<=96;i+=2){
    const tx=left+2+i*step;
    mk("line",{x1:tx,x2:tx,y1:p.yBot,y2:p.yBot+4,stroke:"#444","stroke-width":1},g);
  }
  xTickLabels.forEach(lab=>{
    const xl=mk("text",{x:xS(+lab),y:p.yBot+22,"font-size":11.5,"font-weight":"bold","text-anchor":"middle",fill:"#111"},g);
    
    
    xl.textContent=lab;
  });
  const cy=(p.yTop+p.yBot)/2, yx=left-45;
  const yt=mk("text",{x:yx,y:cy,"font-size":16,"font-weight":"bold","text-anchor":"middle",fill:"#111",transform:`rotate(-90 ${yx} ${cy})`},g);
  
  
  yt.textContent="Wave height (m)";
  const all=[p.obs].concat(p.m);
  all.forEach((arr,si)=>{
    const s=styles[si];
    const pts=categories.map((c,k)=>xS(c).toFixed(1)+","+yS(arr[k]).toFixed(1)).join(" ");
    const pl=mk("polyline",{points:pts,fill:"none",stroke:s.c,"stroke-width":s.w,"stroke-dasharray":s.d,"stroke-linejoin":"round"},g);
    
    
  });
  seriesNames.forEach((nm,si)=>{
    const s=styles[si], y=p.ly+si*p.ls;
    const lg=mk("g",{},g);
    
    
    mk("line",{x1:p.lx,x2:p.lx+42,y1:y,y2:y,stroke:s.c,"stroke-width":s.w,"stroke-dasharray":s.d},lg);
    const lt=mk("text",{x:p.lx+48,y:y+5,"font-size":14,"font-weight":"bold",fill:"#111"},lg);
    lt.textContent=nm;
  });
});
[[290,"x-axis-title-g"],[785,"x-axis-title-h"],[1310,"x-axis-title-i"]].forEach(a=>{
  const t=mk("text",{x:a[0],y:935,"font-size":19,"font-weight":"bold","text-anchor":"middle",fill:"#111"});
  
  
  t.textContent="Time series (h)";
});
</script>
</body></html>
